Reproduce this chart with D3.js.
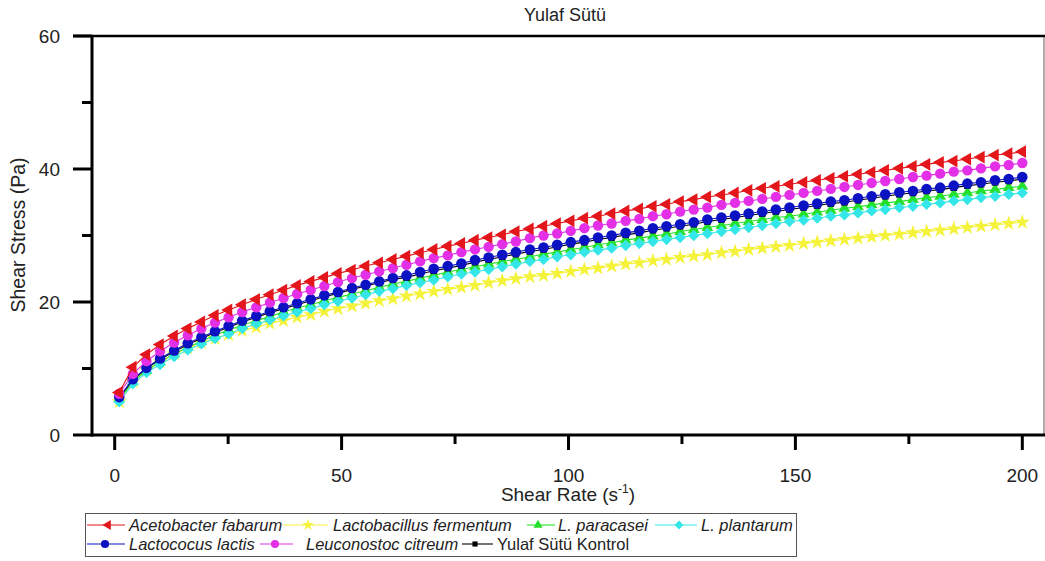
<!DOCTYPE html>
<html><head><meta charset="utf-8">
<script src="https://cdn.jsdelivr.net/npm/d3@7"></script>
<style>
body{margin:0;background:#fff}
svg{display:block;font-family:"Liberation Sans",Arial,sans-serif}
</style>
</head><body>
<svg id="c" width="1045" height="561"></svg>
<script>
// ---- data ----
const shearRate = [1,4.0,7.0,10.0,13.1,16.1,19.1,22.1,25.1,28.1,31.2,34.2,37.2,40.2,43.2,46.2,49.2,52.3,55.3,58.3,61.3,64.3,67.3,70.3,73.4,76.4,79.4,82.4,85.4,88.4,91.5,94.5,97.5,100.5,103.5,106.5,109.5,112.6,115.6,118.6,121.6,124.6,127.6,130.6,133.7,136.7,139.7,142.7,145.7,148.7,151.8,154.8,157.8,160.8,163.8,166.8,169.8,172.9,175.9,178.9,181.9,184.9,187.9,190.9,194.0,197.0,200.0];

const acetobacterFabarum = [6.4,10.2,12.1,13.6,14.9,16.0,17.0,18.0,18.8,19.6,20.4,21.1,21.8,22.5,23.1,23.7,24.3,24.8,25.4,25.9,26.4,26.9,27.4,27.9,28.4,28.8,29.3,29.7,30.1,30.6,31.0,31.4,31.8,32.2,32.6,32.9,33.3,33.7,34.0,34.4,34.7,35.1,35.4,35.8,36.1,36.4,36.8,37.1,37.4,37.7,38.0,38.3,38.6,38.9,39.2,39.5,39.8,40.1,40.4,40.7,41.0,41.2,41.5,41.8,42.1,42.3,42.6];

const lactobacillusFermentum = [5.0,8.0,9.8,11.0,12.2,13.1,13.9,14.5,15.1,15.7,16.2,16.8,17.2,17.7,18.1,18.6,19.0,19.4,19.8,20.2,20.5,20.9,21.2,21.6,21.9,22.2,22.5,22.9,23.2,23.5,23.8,24.0,24.3,24.6,24.9,25.1,25.4,25.7,25.9,26.2,26.4,26.7,26.9,27.1,27.4,27.6,27.9,28.1,28.3,28.5,28.8,29.0,29.2,29.4,29.6,29.8,30.0,30.2,30.4,30.6,30.8,31.0,31.2,31.4,31.6,31.8,32.0];

const lParacasei = [5.4,8.0,9.7,11.0,12.2,13.2,14.1,15.0,15.8,16.5,17.2,17.8,18.5,19.1,19.6,20.2,20.7,21.2,21.7,22.2,22.7,23.1,23.6,24.0,24.5,24.9,25.3,25.7,26.1,26.4,26.8,27.2,27.5,27.9,28.2,28.6,28.9,29.3,29.6,29.9,30.2,30.6,30.9,31.2,31.5,31.8,32.1,32.4,32.7,32.9,33.2,33.5,33.8,34.1,34.3,34.6,34.9,35.1,35.4,35.7,35.9,36.2,36.4,36.7,36.9,37.2,37.4];

const lPlantarum = [5.0,7.7,9.4,10.6,11.8,12.8,13.7,14.5,15.2,16.0,16.7,17.3,17.9,18.5,19.0,19.6,20.1,20.6,21.1,21.6,22.0,22.5,22.9,23.3,23.8,24.2,24.5,24.9,25.3,25.7,26.1,26.4,26.8,27.1,27.5,27.8,28.1,28.5,28.8,29.1,29.4,29.7,30.0,30.3,30.6,30.9,31.2,31.5,31.8,32.1,32.3,32.6,32.9,33.1,33.4,33.7,33.9,34.2,34.4,34.7,34.9,35.2,35.4,35.7,35.9,36.2,36.4];

const lactococusLactis = [5.7,8.4,10.1,11.5,12.7,13.8,14.7,15.6,16.4,17.2,17.9,18.6,19.2,19.8,20.4,21.0,21.5,22.1,22.6,23.1,23.6,24.0,24.5,25.0,25.4,25.8,26.3,26.7,27.1,27.5,27.9,28.2,28.6,29.0,29.3,29.7,30.0,30.4,30.7,31.1,31.4,31.7,32.0,32.4,32.7,33.0,33.3,33.6,33.9,34.2,34.5,34.8,35.1,35.3,35.6,35.9,36.2,36.5,36.7,37.0,37.2,37.5,37.8,38.0,38.3,38.5,38.8];

const leuconostocCitreum = [6.2,9.2,11.1,12.6,13.9,15.0,16.0,16.9,17.7,18.5,19.2,19.9,20.6,21.2,21.8,22.4,23.0,23.6,24.1,24.6,25.1,25.6,26.1,26.6,27.0,27.5,27.9,28.3,28.7,29.1,29.6,30.0,30.3,30.7,31.1,31.5,31.8,32.2,32.5,32.9,33.2,33.6,33.9,34.2,34.6,34.9,35.2,35.5,35.8,36.1,36.4,36.7,37.0,37.3,37.6,37.9,38.2,38.5,38.8,39.0,39.3,39.6,39.8,40.1,40.4,40.6,40.9];

const yulafKontrol = [5.6,8.3,10.0,11.4,12.5,13.6,14.5,15.4,16.2,17.0,17.7,18.4,19.0,19.6,20.2,20.8,21.3,21.9,22.4,22.9,23.4,23.7,24.2,24.7,25.1,25.5,26.0,26.4,26.8,27.2,27.6,27.9,28.3,28.7,29.0,29.4,29.7,30.1,30.4,30.8,31.1,31.4,31.7,32.1,32.4,32.7,33.0,33.3,33.6,33.9,34.2,34.5,34.8,35.0,35.3,35.6,35.9,36.2,36.4,36.7,36.9,37.2,37.5,37.7,38.0,38.2,38.5];

const seriesNames = ["Acetobacter fabarum","Lactobacillus fermentum","L. paracasei","L. plantarum","Lactococus lactis","Leuconostoc citreum","Yulaf Sütü Kontrol"];
const xTickValues = [0,50,100,150,200];
const xMinorTickValues = [25,75,125,175];
const yTickValues = [0,20,40,60];
const yMinorTickValues = [10,30,50];
const chartTitle = "Yulaf Sütü";

// ---- styles ----
const seriesValues = [acetobacterFabarum,lactobacillusFermentum,lParacasei,lPlantarum,lactococusLactis,leuconostocCitreum,yulafKontrol];
const styles = [
  {color:"#e3161b", sym:d3.symbolTriangle, size:70, rot:-90, italic:true},
  {color:"#f4f23a", sym:d3.symbolStar, size:72, rot:0, italic:true},
  {color:"#25e02a", sym:d3.symbolTriangle, size:60, rot:0, italic:true},
  {color:"#35e6e8", sym:d3.symbolSquare, size:64, rot:45, italic:true},
  {color:"#0b12c2", sym:d3.symbolCircle, size:88, rot:0, italic:true},
  {color:"#e32fe6", sym:d3.symbolCircle, size:84, rot:0, italic:true},
  {color:"#000000", sym:d3.symbolSquare, size:44, rot:0, italic:false}
];
const drawOrder = [1,2,3,6,4,5,0];

const svg = d3.select("#c");
const x = d3.scaleLinear().domain([-5,205]).range([92,1045]);
const y = d3.scaleLinear().domain([0,60]).range([435,36]);

// title
svg.append("text").attr("x",565).attr("y",21).attr("text-anchor","middle")
  .attr("font-size",18).attr("fill","#222").text(chartTitle);

// frame
svg.append("line").attr("x1",1044).attr("x2",1044).attr("y1",y(60)).attr("y2",y(0))
  .attr("stroke","#777").attr("stroke-width",1.2);
svg.append("line").attr("x1",73).attr("x2",1045).attr("y1",y(60)).attr("y2",y(60))
  .attr("stroke","#000").attr("stroke-width",2.5);
svg.append("line").attr("x1",92).attr("x2",1045).attr("y1",y(0)).attr("y2",y(0))
  .attr("stroke","#000").attr("stroke-width",3);
svg.append("line").attr("x1",92).attr("x2",92).attr("y1",y(60)-1).attr("y2",y(0)+1.5)
  .attr("stroke","#000").attr("stroke-width",3);

// y axis ticks
const gy = svg.append("g");
gy.selectAll(".ymaj").data(yTickValues).join("line")
  .attr("x1",73).attr("x2",92).attr("y1",d=>y(d)).attr("y2",d=>y(d))
  .attr("stroke","#000").attr("stroke-width",3);
gy.selectAll(".ymin").data(yMinorTickValues).join("line").attr("class","ymin")
  .attr("x1",82).attr("x2",92).attr("y1",d=>y(d)).attr("y2",d=>y(d))
  .attr("stroke","#000").attr("stroke-width",3);
gy.selectAll("text").data(yTickValues).join("text")
  .attr("x",60).attr("y",d=>y(d)).attr("dy","0.36em").attr("text-anchor","end")
  .attr("font-size",19).attr("fill","#222").text(d=>d);

// x axis ticks
const gx = svg.append("g");
gx.selectAll(".xmaj").data(xTickValues).join("line")
  .attr("x1",d=>x(d)).attr("x2",d=>x(d)).attr("y1",y(0)).attr("y2",450)
  .attr("stroke","#000").attr("stroke-width",3);
gx.selectAll(".xmin").data(xMinorTickValues).join("line").attr("class","xmin")
  .attr("x1",d=>x(d)).attr("x2",d=>x(d)).attr("y1",y(0)).attr("y2",444)
  .attr("stroke","#000").attr("stroke-width",3);
gx.selectAll("text").data(xTickValues).join("text")
  .attr("x",d=>x(d)).attr("y",482).attr("text-anchor","middle")
  .attr("font-size",19).attr("fill","#222").text(d=>d);

// axis titles
const xt = svg.append("text").attr("x",568).attr("y",501).attr("text-anchor","middle")
  .attr("font-size",19).attr("fill","#222");
xt.append("tspan").text("Shear Rate (s");
xt.append("tspan").attr("font-size",12).attr("dy",-8).text("-1");
xt.append("tspan").attr("dy",8).text(")");
svg.append("text").attr("transform","translate(25,235) rotate(-90)")
  .attr("text-anchor","middle").attr("font-size",19.5).attr("fill","#222")
  .text("Shear Stress (Pa)");

// series
const line = d3.line().x((d,i)=>x(shearRate[i])).y(d=>y(d));
const plot = svg.append("g");
drawOrder.forEach(k=>{
  const st = styles[k], vals = seriesValues[k];
  plot.append("path").datum(vals).attr("d",line).attr("fill","none")
    .attr("stroke",st.color).attr("stroke-width",1.1);
  const sym = d3.symbol().type(st.sym).size(st.size);
  plot.append("g").selectAll("path").data(vals).join("path")
    .attr("d",sym)
    .attr("transform",(d,i)=>`translate(${x(shearRate[i])},${y(d)}) rotate(${st.rot})`)
    .attr("fill",st.color);
});

// legend
const legendLayout = [
  {row:0,l1:87,l2:125,m:108,t:129},
  {row:0,l1:283,l2:328,m:308,t:333},
  {row:0,l1:527,l2:555,m:538,t:558},
  {row:0,l1:655,l2:697,m:679,t:701},
  {row:1,l1:87,l2:125,m:105,t:129},
  {row:1,l1:260,l2:293,m:275,t:306},
  {row:1,l1:462,l2:493,m:475,t:497}
];
const rowY = [525,544];
const lg = svg.append("g");
lg.append("rect").attr("x",85.5).attr("y",513.5).attr("width",711).attr("height",43)
  .attr("fill","none").attr("stroke","#555").attr("stroke-width",1);
seriesNames.forEach((name,k)=>{
  const L = legendLayout[k], st = styles[k], yy = rowY[L.row];
  lg.append("line").attr("x1",L.l1).attr("x2",L.l2).attr("y1",yy).attr("y2",yy)
    .attr("stroke",st.color).attr("stroke-width",1.1);
  lg.append("path").attr("d",d3.symbol().type(st.sym).size(st.size*0.6))
    .attr("transform",`translate(${L.m},${yy}) rotate(${st.rot})`).attr("fill",st.color);
  lg.append("text").attr("x",L.t).attr("y",yy).attr("dy","0.36em")
    .attr("font-size",16.5).attr("font-style",st.italic?"italic":"normal")
    .attr("fill","#222").text(name);
});
</script>
</body></html>
